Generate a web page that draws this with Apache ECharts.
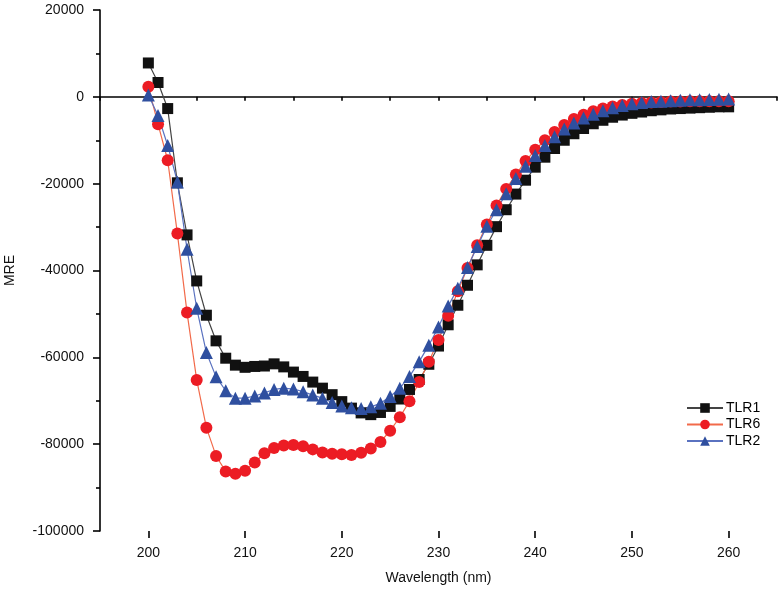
<!DOCTYPE html>
<html>
<head>
<meta charset="utf-8">
<script src="https://cdn.jsdelivr.net/npm/echarts@6/dist/echarts.min.js"></script>
<style>
  html, body { margin: 0; padding: 0; background: #fff; }
  #chart { width: 778px; height: 592px; }
</style>
</head>
<body>
<div id="chart"></div>
<script>
// wavelength (nm)
const wavelength = [200,201,202,203,204,205,206,207,208,209,210,211,212,213,214,215,216,217,218,219,220,
  221,222,223,224,225,226,227,228,229,230,231,232,233,234,235,236,237,238,239,240,
  241,242,243,244,245,246,247,248,249,250,251,252,253,254,255,256,257,258,259,260]

// MRE values
const tlr1 = [7800,3300,-2700,-19800,-31800,-42400,-50300,-56200,-60200,-61800,-62300,
  -62100,-62000,-61500,-62200,-63400,-64400,-65700,-67100,-68600,-70200,
  -71700,-72800,-73200,-72700,-71300,-69600,-67400,-65100,-61600,-57400,
  -52500,-48000,-43400,-38700,-34200,-29900,-26000,-22400,-19200,-16200,
  -13900,-11900,-10000,-8500,-7300,-6200,-5400,-4700,-4200,-3800,
  -3500,-3200,-3000,-2800,-2700,-2600,-2500,-2400,-2300,-2300]
const tlr6 = [2300,-6300,-14600,-31500,-49700,-65200,-76200,-82700,-86300,-86800,-86100,
  -84200,-82100,-80900,-80300,-80200,-80500,-81200,-81900,-82200,-82300,
  -82500,-82000,-81000,-79500,-76900,-73800,-70100,-65700,-61000,-56000,
  -50400,-44800,-39400,-34200,-29400,-25000,-21200,-17900,-14800,-12200,
  -10000,-8100,-6500,-5100,-4100,-3300,-2700,-2200,-1900,-1600,
  -1400,-1300,-1200,-1100,-1100,-1000,-1000,-1000,-1000,-1000]
const tlr2 = [400,-4300,-11200,-19600,-35100,-48700,-58900,-64500,-67700,-69400,-69400,
  -68900,-68200,-67400,-67100,-67300,-67900,-68700,-69400,-70400,-71200,
  -71600,-71800,-71400,-70600,-69000,-67100,-64400,-61000,-57200,-53000,
  -48200,-44100,-39300,-34500,-29800,-26000,-22300,-18800,-16000,-13500,
  -11200,-9200,-7400,-6000,-4900,-4000,-3200,-2500,-2000,-1600,
  -1300,-1100,-1000,-900,-800,-700,-650,-600,-550,-500]

// axis tick labels
const xTicks = [200,210,220,230,240,250,260]
const yTicks = [-100000,-80000,-60000,-40000,-20000,0,20000]

const font = 'Liberation Sans, Arial, sans-serif'

function pairs(ys){
  return wavelength.map((x, i) => [x, ys[i]])
}

const chart = echarts.init(document.getElementById('chart'))

const option = {
  animation: false,
  backgroundColor: '#fff',
  grid: { left: 100, right: 1, top: 10, bottom: 61, containLabel: false, outerBoundsMode: 'none' },
  xAxis: [{
    type: 'value',
    min: 195, max: 265, interval: 5,
    name: 'Wavelength (nm)',
    nameLocation: 'middle',
    nameGap: 40,
    nameTextStyle: { fontFamily: font, fontSize: 14, color: '#111' },
    axisLine: { lineStyle: { color: '#000', width: 1.6 } },
    axisTick: { inside: false, length: 4, lineStyle: { color: '#000', width: 1.6 } },
    axisLabel: { show: false },
    splitLine: { show: false }
  }, {
    type: 'value',
    position: 'bottom',
    min: 195, max: 265, interval: 5,
    axisLine: { show: false },
    axisTick: { inside: false, length: 7, customValues: xTicks, lineStyle: { color: '#000', width: 1.6 } },
    axisLabel: {
      customValues: xTicks,
      margin: 15,
      fontFamily: font, fontSize: 14, color: '#111',
      formatter: v => String(v)
    },
    splitLine: { show: false }
  }],
  yAxis: {
    type: 'value',
    min: -100000, max: 20000, interval: 20000,
    name: 'MRE',
    nameLocation: 'middle',
    nameGap: 83,
    nameTextStyle: { fontFamily: font, fontSize: 14, color: '#111' },
    axisLine: { show: true, lineStyle: { color: '#000', width: 1.6 } },
    axisTick: { show: true, inside: false, length: 7, lineStyle: { color: '#000', width: 1.6 } },
    minorTick: { show: true, splitNumber: 2, length: 4, lineStyle: { color: '#000', width: 1.6 } },
    axisLabel: {
      margin: 16,
      fontFamily: font, fontSize: 14, color: '#111',
      formatter: v => yTicks.indexOf(v) >= 0 ? String(v) : ''
    },
    splitLine: { show: false }
  },
  legend: {
    orient: 'vertical',
    left: 681, top: 396,
    itemWidth: 36, itemHeight: 12, itemGap: 2.5,
    textStyle: { fontFamily: font, fontSize: 14, color: '#000', padding: [0, 0, 0, -2] },
    data: ['TLR1', 'TLR6', 'TLR2']
  },
  series: [{
    name: 'TLR1', type: 'line',
    data: pairs(tlr1),
    symbol: 'rect', symbolSize: 11,
    itemStyle: { color: '#111' },
    lineStyle: { color: '#444', width: 1.2 }
  }, {
    name: 'TLR6', type: 'line',
    data: pairs(tlr6),
    symbol: 'circle', symbolSize: 12,
    itemStyle: { color: '#ec1c24' },
    lineStyle: { color: '#f26a4a', width: 1.2 }
  }, {
    name: 'TLR2', type: 'line',
    data: pairs(tlr2),
    symbol: 'triangle', symbolSize: 13,
    itemStyle: { color: '#2f4f9f' },
    lineStyle: { color: '#5a72c0', width: 1.2 }
  }]
}

chart.setOption(option)
</script>
</body>
</html>
